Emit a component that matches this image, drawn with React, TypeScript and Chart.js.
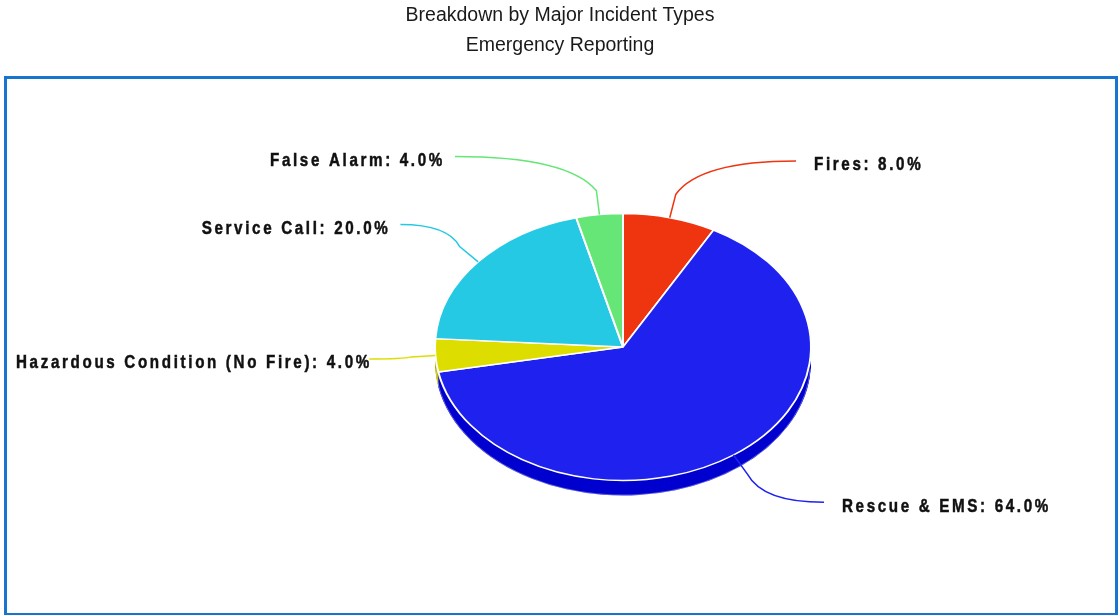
import React, { useEffect, useRef } from 'react';
import { Chart, registerables } from 'chart.js';

Chart.register(...registerables);

// ---- data ----
const titleLines = ['Breakdown by Major Incident Types', 'Emergency Reporting'];
const categories = ['Fires', 'Rescue & EMS', 'Hazardous Condition (No Fire)', 'Service Call', 'False Alarm'];
const shares = [8, 64, 4, 20, 4];

// ---- styles ----
const sliceColors = ['#ef3410', '#1f22ee', '#dddd00', '#26c9e3', '#66e677'];
const sideColors = ['#c22800', '#0000cf', '#b3b300', '#1aa3ba', '#4cc05e'];
const FONT = '"Liberation Sans", Arial, sans-serif';
const PIE_SHIFT_X = 63; // pie centre offset from chart-area centre
const PIE_R = 188;
const TILT = 0.71;
const DEPTH = 15;
const LABEL_R = 254;
const LABEL_RY = 192;
const BOX = { x: 5.5, y: 77.5, w: 1111, h: 537 };

function geom(chart: any) {
  const a = chart.chartArea;
  const ox = (a.left + a.right) / 2;
  const oy = (a.top + a.bottom) / 2;
  return { ox, oy, cx: ox + PIE_SHIFT_X, cy: oy };
}

const framePlugin = {
  id: 'frame',
  beforeDraw(chart: any) {
    const ctx = chart.ctx;
    ctx.save();
    ctx.fillStyle = '#ffffff';
    ctx.fillRect(0, 0, chart.width, chart.height);
    ctx.strokeStyle = '#1874cd';
    ctx.lineWidth = 3;
    ctx.strokeRect(BOX.x, BOX.y, BOX.w, BOX.h);
    ctx.restore();
  },
};

const pie3dPlugin = {
  id: 'pie3d',
  beforeDatasetsDraw(chart: any) {
    const ctx = chart.ctx;
    const meta = chart.getDatasetMeta(0);
    const { ox, oy, cx, cy } = geom(chart);
    ctx.save();
    for (let k = DEPTH; k >= 1; k--) {
      meta.data.forEach((el: any, i: number) => {
        const p = el.getProps(['startAngle', 'endAngle', 'outerRadius'], true);
        ctx.save();
        ctx.translate(cx, cy + k);
        ctx.scale(1, TILT);
        ctx.beginPath();
        ctx.moveTo(0, 0);
        ctx.arc(0, 0, p.outerRadius, p.startAngle, p.endAngle);
        ctx.closePath();
        ctx.restore();
        ctx.fillStyle = sideColors[i];
        ctx.fill();
      });
    }
    ctx.save();
    ctx.translate(cx, cy + DEPTH);
    ctx.scale(1, TILT);
    ctx.beginPath();
    ctx.arc(0, 0, PIE_R - 0.5, 0.05, Math.PI - 0.05);
    ctx.restore();
    ctx.strokeStyle = 'rgba(255,255,255,0.35)';
    ctx.lineWidth = 1;
    ctx.stroke();
    ctx.restore();

    // tilt the top face
    ctx.save();
    ctx.translate(cx, cy);
    ctx.scale(1, TILT);
    ctx.translate(-ox, -oy);
  },
  afterDatasetsDraw(chart: any) {
    const ctx = chart.ctx;
    ctx.restore();
    const meta = chart.getDatasetMeta(0);
    const { cx, cy } = geom(chart);
    const data = chart.data.datasets[0].data as number[];
    const total = data.reduce((s, v) => s + v, 0);
    meta.data.forEach((el: any, i: number) => {
      const p = el.getProps(['startAngle', 'endAngle', 'outerRadius'], true);
      const m = (p.startAngle + p.endAngle) / 2;
      const cos = Math.cos(m);
      const sin = Math.sin(m);
      const r = p.outerRadius;
      const sx = cx + r * cos;
      const sy = cy + r * TILT * sin;
      const bx = sx + 24 * cos;
      const by = sy + 24 * sin;
      const dy = LABEL_RY * sin;
      const right = cos >= 0;
      const ex = cx + (right ? 1 : -1) * Math.sqrt(Math.max(LABEL_R * LABEL_R - dy * dy, 0));
      const ey = cy + dy;
      ctx.save();
      ctx.strokeStyle = sliceColors[i];
      ctx.lineWidth = 1.5;
      ctx.beginPath();
      ctx.moveTo(sx, sy);
      ctx.lineTo(bx, by);
      ctx.quadraticCurveTo(bx + (ex - bx) * 0.2, ey, ex, ey);
      ctx.stroke();
      ctx.restore();

      const text = `${chart.data.labels[i]}: ${((data[i] / total) * 100).toFixed(1)}%`;
      const SX = 0.8;
      ctx.save();
      ctx.font = `bold 19px ${FONT}`;
      (ctx as any).letterSpacing = '3.3px';
      ctx.fillStyle = '#111111';
      ctx.strokeStyle = '#111111';
      ctx.lineWidth = 0.5;
      ctx.textBaseline = 'middle';
      ctx.textAlign = 'left';
      const w = ctx.measureText(text).width * SX;
      let left = right ? ex + 18 : ex - 10 - w;
      if (left < 16) left = 16;
      ctx.translate(left, ey + 4);
      ctx.scale(SX, 1);
      ctx.fillText(text, 0, 0);
      ctx.strokeText(text, 0, 0);
      ctx.restore();
    });
  },
};

export default function App() {
  const ref = useRef<HTMLCanvasElement>(null);
  useEffect(() => {
    if (!ref.current) return;
    Chart.defaults.font.family = FONT;
    const chart = new Chart(ref.current, {
      type: 'pie',
      data: {
        labels: categories,
        datasets: [
          {
            data: shares,
            backgroundColor: sliceColors,
            borderColor: '#ffffff',
            borderWidth: 2,
            radius: PIE_R,
            clip: false as any,
          } as any,
        ],
      },
      options: {
        animation: false,
        responsive: true,
        maintainAspectRatio: false,
        events: [],
        layout: { padding: 0 },
        plugins: {
          legend: { display: false },
          tooltip: { enabled: false },
          title: {
            display: true,
            text: titleLines,
            color: '#1a1a1a',
            font: { family: FONT, size: 19.5, weight: 'normal', lineHeight: 30 / 19.5 },
            padding: { top: 1, bottom: 18 },
          },
        },
      },
      plugins: [framePlugin, pie3dPlugin],
    });
    return () => chart.destroy();
  }, []);
  return (
    <div style={{ position: 'absolute', left: 0, top: 0, width: 1120, height: 615 }}>
      <canvas ref={ref} />
    </div>
  );
}
